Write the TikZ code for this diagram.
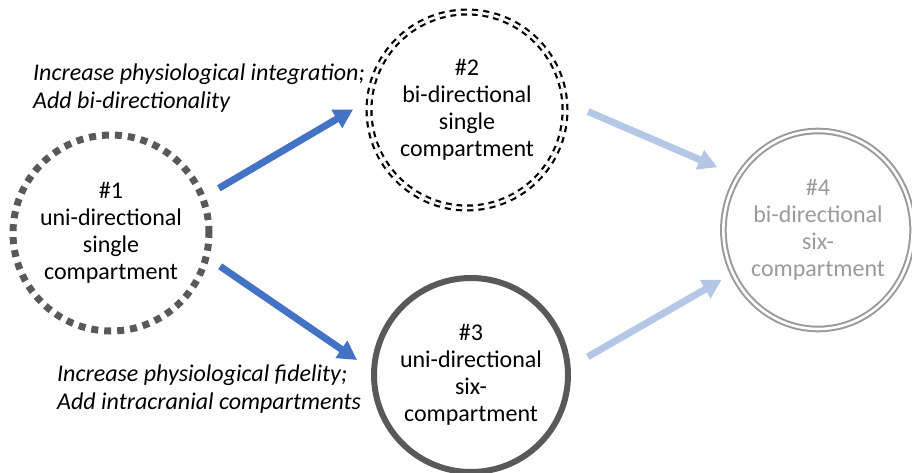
\documentclass[tikz,border=0pt]{standalone}
\usepackage{fontspec}
\setmainfont{Carlito}
\usetikzlibrary{arrows.meta, shapes.geometric}

\definecolor{flowblue}{HTML}{4472C4}
\definecolor{paleblue}{HTML}{B4C7E7}
\definecolor{rimgray}{HTML}{595959}
\definecolor{fadegray}{HTML}{9A9A9A}

\tikzset{
    model/.style={circle, minimum size=196pt, inner sep=0pt, outer sep=0pt,
        align=center, font=\fontsize{24}{27}\selectfont},
    flow/.style={line width=7pt, draw=flowblue,
        -{Triangle[length=19pt, width=20pt]}},
    faded/.style={flow, draw=paleblue},
    note/.style={align=left, inner sep=0pt, anchor=west,
        font=\fontsize{24}{28}\selectfont\itshape}
}

\begin{document}
\begin{tikzpicture}[x=1pt, y=-1pt]
    \useasboundingbox (0,0) rectangle (912,472);

    % Model #1: dotted rim
    \node[model, draw=rimgray, line width=7pt, dash pattern=on 7pt off 6pt]
        (uni_single) at (111,233) {\#1\\uni-directional\\single\\compartment};

    % Model #2: double dashed rim
    \node[model, draw=black, double=white, line width=2.2pt, double distance=2.6pt,
        dash pattern=on 6pt off 5pt]
        (bi_single) at (467,110) {\#2\\bi-directional\\single\\compartment};

    % Model #3: heavy solid rim
    \node[model, minimum size=194pt, draw=rimgray, line width=6pt]
        (uni_six) at (471,375) {\#3\\uni-directional\\six-\\compartment};

    % Model #4: faded double rim
    \node[model, ellipse, minimum width=186pt, minimum height=198pt,
        draw=fadegray, double=white, line width=2pt, double distance=2.6pt,
        text=fadegray]
        (bi_six) at (818,230) {\#4\\bi-directional\\six-\\compartment};

    % ==========================================
    % Refinement steps
    % ==========================================
    \draw[flow, shorten <=19pt, shorten >=19pt] (uni_single.21) -- (bi_single.174);
    \draw[flow, shorten <=17pt, shorten >=20.6pt] (uni_single.-14) -- (uni_six.178);

    % Future steps (faded)
    \draw[faded, shorten <=25.6pt, shorten >=23pt] (bi_single.5) -- (bi_six.146);
    \draw[faded, shorten <=23pt, shorten >=13pt] (uni_six.4) -- (bi_six.207);

    % Step labels
    \node[note] (step_up) at (33,88)
        {Increase physiological integration;\\Add bi-directionality};
    \node[note] (step_down) at (57,389)
        {Increase physiological fidelity;\\Add intracranial compartments};

\end{tikzpicture}
\end{document}
